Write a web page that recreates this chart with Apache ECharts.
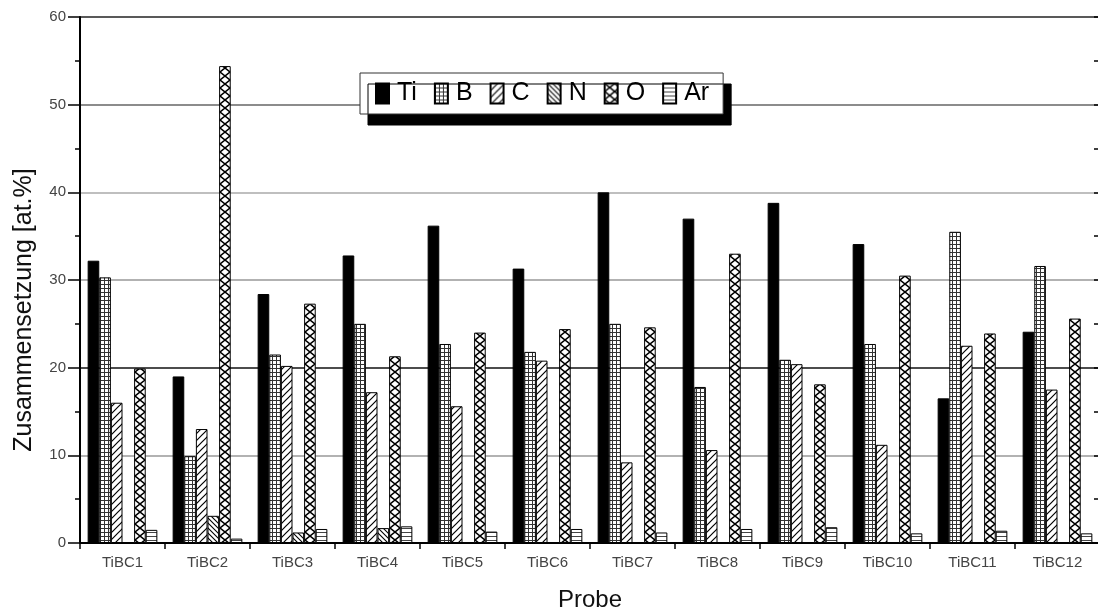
<!DOCTYPE html>
<html><head><meta charset="utf-8">
<script src="https://cdn.jsdelivr.net/npm/echarts@6/dist/echarts.min.js"></script>
<style>html,body{margin:0;padding:0;background:#fff}#c{width:1098px;height:611px}</style>
</head><body><div id="c"></div>
<script>
const categories = ['TiBC1','TiBC2','TiBC3','TiBC4','TiBC5','TiBC6','TiBC7','TiBC8','TiBC9','TiBC10','TiBC11','TiBC12'];
const seriesNames = ['Ti','B','C','N','O','Ar'];
const ti = [32.2, 19.0, 28.4, 32.8, 36.2, 31.3, 40.0, 37.0, 38.8, 34.1, 16.5, 24.1];
const b  = [30.3,  9.9, 21.5, 25.0, 22.7, 21.8, 25.0, 17.8, 20.9, 22.7, 35.5, 31.6];
const c  = [16.0, 13.0, 20.2, 17.2, 15.6, 20.8,  9.2, 10.6, 20.4, 11.2, 22.5, 17.5];
const n  = [ 0.0,  3.1,  1.2,  1.7,  0.0,  0.0,  0.0,  0.0,  0.0,  0.0,  0.0,  0.0];
const o  = [19.9, 54.4, 27.3, 21.3, 24.0, 24.4, 24.6, 33.0, 18.1, 30.5, 23.9, 25.6];
const ar = [ 1.5,  0.5,  1.6,  1.9,  1.3,  1.6,  1.2,  1.6,  1.8,  1.1,  1.4,  1.1];
const values = [ti, b, c, n, o, ar];

function tile(w, h, draw) {
  const cv = document.createElement('canvas');
  cv.width = w; cv.height = h;
  const g = cv.getContext('2d');
  g.fillStyle = '#fff'; g.fillRect(0, 0, w, h);
  g.strokeStyle = '#000';
  draw(g);
  return {image: cv, repeat: 'repeat'};
}
const patterns = [
  '#000',
  tile(4, 4, g => { g.strokeStyle = '#333'; g.lineWidth = 1; g.beginPath(); g.moveTo(0, 0.5); g.lineTo(4, 0.5); g.moveTo(0.5, 0); g.lineTo(0.5, 4); g.stroke(); }),
  tile(7, 7, g => { g.lineWidth = 1.2; g.beginPath(); g.moveTo(-1, 8); g.lineTo(8, -1); g.moveTo(-1, 1); g.lineTo(1, -1); g.moveTo(6, 8); g.lineTo(8, 6); g.stroke(); }),
  tile(5, 5, g => { g.lineWidth = 1.1; g.beginPath(); g.moveTo(-1, -1); g.lineTo(6, 6); g.moveTo(-1, 4); g.lineTo(1, 6); g.moveTo(4, -1); g.lineTo(6, 1); g.stroke(); }),
  tile(10, 8, g => { g.lineWidth = 1.5; g.beginPath(); g.moveTo(0, 0); g.lineTo(10, 8); g.moveTo(10, 0); g.lineTo(0, 8); g.stroke(); }),
  tile(4, 4, g => { g.strokeStyle = '#444'; g.lineWidth = 1; g.beginPath(); g.moveTo(0, 0.5); g.lineTo(4, 0.5); g.stroke(); })
];

const FONT = 'Liberation Sans, Arial, sans-serif';
const chart = echarts.init(document.getElementById('c'), null, {renderer: 'canvas'});
chart.setOption({
  animation: false,
  backgroundColor: '#fff',
  legend: {
    left: 360, top: 73,
    data: seriesNames,
    icon: 'rect',
    itemWidth: 13, itemHeight: 20, itemGap: 17,
    padding: [8, 14, 8, 15],
    textStyle: {fontSize: 25, fontFamily: FONT, color: '#000', padding: [0, 0, 0, 3]},
    backgroundColor: '#fff', borderColor: '#333', borderWidth: 1,
    shadowColor: '#000', shadowBlur: 0, shadowOffsetX: 8, shadowOffsetY: 11
  },
  grid: {left: 80, top: 17, width: 1020, height: 526, outerBoundsMode: 'none', containLabel: false},
  xAxis: {
    type: 'category', data: categories,
    name: 'Probe', nameLocation: 'middle', nameGap: 45,
    nameTextStyle: {fontSize: 24, fontFamily: FONT, color: '#111'},
    axisLine: {lineStyle: {color: '#000', width: 2}},
    axisTick: {show: true, length: 6, lineStyle: {color: '#000', width: 1.5}},
    axisLabel: {fontSize: 15, fontFamily: FONT, color: '#444', margin: 12}
  },
  yAxis: [{
    type: 'value', min: 0, max: 60, interval: 10,
    name: 'Zusammensetzung [at.%]', nameLocation: 'middle', nameGap: 43,
    nameTextStyle: {fontSize: 25, fontFamily: FONT, color: '#111', padding: [0, 60, 0, 0]},
    axisLine: {show: true, lineStyle: {color: '#000', width: 2}},
    axisTick: {show: true, length: 12, lineStyle: {color: '#000', width: 1.5}},
    minorTick: {show: true, splitNumber: 2, length: 5, lineStyle: {color: '#000', width: 1.5}},
    axisLabel: {fontSize: 15, fontFamily: FONT, color: '#444', margin: 14},
    splitLine: {show: true, lineStyle: {color: ['#000','#999','#111','#999','#aaa','#666','#222'], width: 1.5}}
  }, {
    type: 'value', min: 0, max: 60, interval: 10, position: 'right',
    axisLine: {show: false},
    axisTick: {show: true, inside: true, length: 6, lineStyle: {color: '#000', width: 1.5}},
    minorTick: {show: true, splitNumber: 2, length: 6, lineStyle: {color: '#000', width: 1.5}},
    axisLabel: {show: false},
    splitLine: {show: false}
  }],
  series: seriesNames.map((name, i) => ({
    name: name, type: 'bar', data: values[i],
    barGap: '0%', barCategoryGap: '18%',
    itemStyle: {color: patterns[i], borderColor: '#000', borderWidth: 1}
  }))
});
</script></body></html>
